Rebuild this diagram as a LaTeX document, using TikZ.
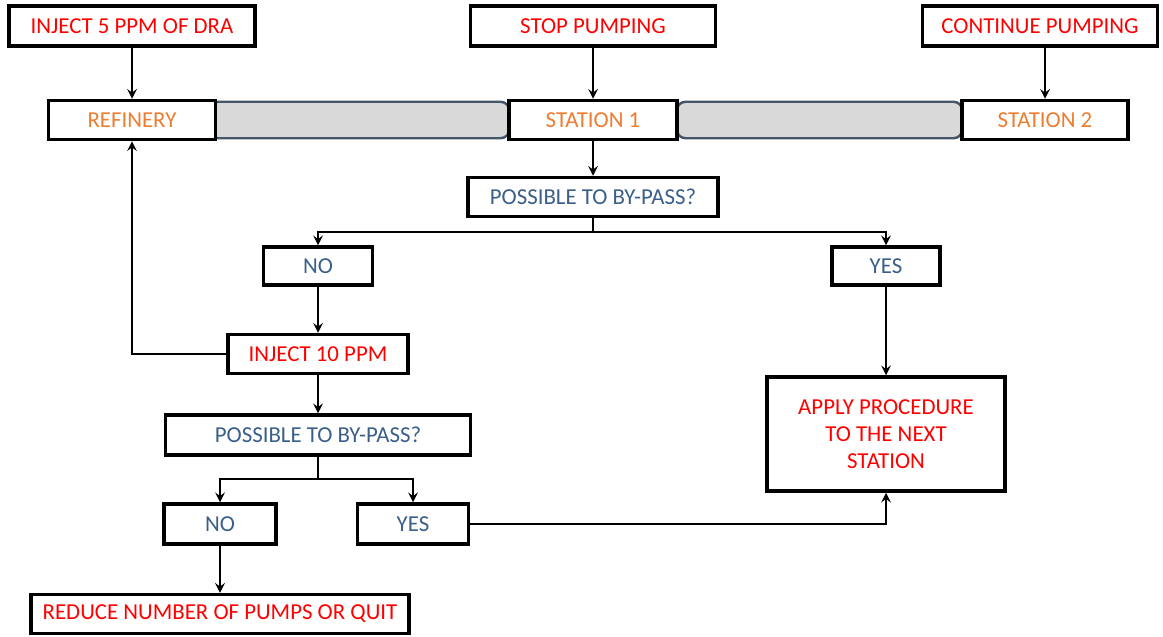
\documentclass[tikz,border=0pt]{standalone}
\usepackage{fontspec}
\setmainfont{Carlito}
\usetikzlibrary{backgrounds}

\definecolor{txtred}{HTML}{FF0000}
\definecolor{txtorange}{HTML}{ED7D31}
\definecolor{txtblue}{HTML}{3A5F8A}
\definecolor{pipegray}{HTML}{D9D9D9}
\definecolor{pipeedge}{HTML}{44546A}

\tikzset{
  box/.style={shape=rectangle, draw=black, line width=2pt, fill=white,
    minimum height=0.8cm, inner sep=0pt, font=\fontsize{13}{15.3}\selectfont},
  actbox/.style={box, text=txtred},
  sitebox/.style={box, text=txtorange},
  askbox/.style={box, text=txtblue},
  flow/.style={line width=1.4pt, -stealth},
  pipe/.style={draw=pipeedge, fill=pipegray, line width=1.4pt, rounded corners=5pt}
}

\begin{document}
\begin{tikzpicture}[x=0.02cm, y=-0.02cm]
    \useasboundingbox (0,0) rectangle (1163,636);

    % top row: actions
    \node[actbox, minimum width=4.92cm] (inj5) at (132,26) {INJECT 5 PPM OF DRA};
    \node[actbox, minimum width=4.90cm] (stop) at (593,26) {STOP PUMPING};
    \node[actbox, minimum width=4.70cm] (cont) at (1040,26) {CONTINUE PUMPING};

    % pipeline sites
    \node[sitebox, minimum width=3.34cm, minimum height=0.78cm] (ref) at (132,120) {REFINERY};
    \node[sitebox, minimum width=3.36cm, minimum height=0.78cm] (st1) at (593,120) {STATION 1};
    \node[sitebox, minimum width=3.32cm, minimum height=0.78cm] (st2) at (1045,120) {STATION 2};

    % first check
    \node[askbox, minimum width=5.00cm, minimum height=0.78cm] (q1) at (593,197) {POSSIBLE TO BY-PASS?};
    \node[askbox, minimum width=2.18cm, minimum height=0.76cm] (no1) at (318,266) {NO};
    \node[askbox, minimum width=2.16cm, minimum height=0.76cm] (yes1) at (886,266) {YES};

    % left branch
    \node[actbox, minimum width=3.60cm, minimum height=0.78cm] (inj10) at (318,354) {INJECT 10 PPM};
    \node[askbox, minimum width=6.10cm, minimum height=0.80cm] (q2) at (318,435) {POSSIBLE TO BY-PASS?};
    \node[askbox, minimum width=2.24cm, minimum height=0.80cm] (no2) at (220,524) {NO};
    \node[askbox, minimum width=2.22cm, minimum height=0.80cm] (yes2) at (413,524) {YES};
    \node[actbox, minimum width=7.56cm, minimum height=0.78cm] (reduce) at (220,614) {REDUCE NUMBER OF PUMPS OR QUIT};

    % right branch
    \node[actbox, minimum width=4.76cm, minimum height=2.28cm, align=center] (apply) at (886,434)
        {APPLY PROCEDURE\\TO THE NEXT\\STATION};

    \coordinate (split1) at (593,232);
    \coordinate (split2) at (318,479);

    \begin{scope}[on background layer]
        \draw[pipe] ([shift={(-8,3)}]ref.north east) rectangle ([shift={(2,-3)}]st1.south west);
        \draw[pipe] ([shift={(-2,3)}]st1.north east) rectangle ([shift={(2,-3)}]st2.south west);
    \end{scope}

    \draw[flow] (inj5) -- (ref);
    \draw[flow] (stop) -- (st1);
    \draw[flow] (st2 |- cont.south) -- (st2.north);
    \draw[flow] (st1) -- (q1);
    \draw[flow] (q1.south) -- (split1) -| (no1.north);
    \draw[flow] (split1) -| (yes1.north);
    \draw[flow] (no1) -- (inj10);
    \draw[flow] (inj10.west) -| (ref.south);
    \draw[flow] (inj10) -- (q2);
    \draw[flow] (q2.south) -- (split2) -| (no2.north);
    \draw[flow] (split2) -| (yes2.north);
    \draw[flow] (no2) -- (reduce);
    \draw[flow] (yes1) -- (apply);
    \draw[flow] (yes2.east) -| (apply.south);

\end{tikzpicture}
\end{document}
